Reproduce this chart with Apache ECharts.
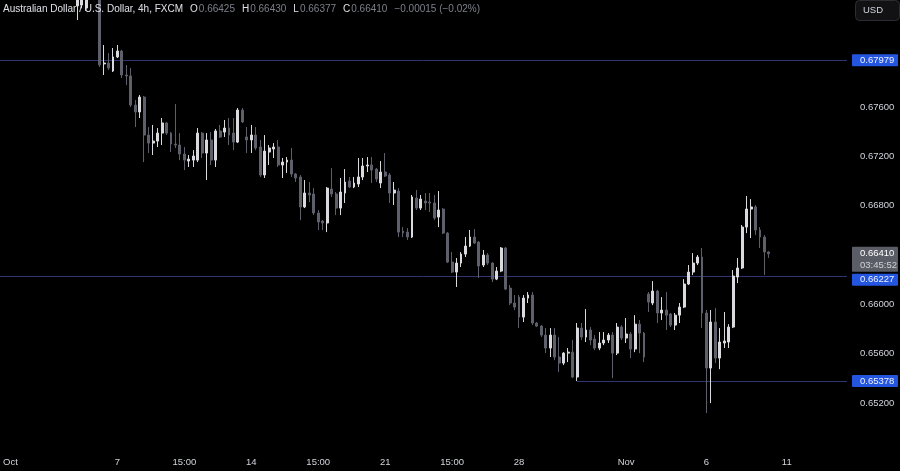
<!DOCTYPE html>
<html><head><meta charset="utf-8">
<script src="https://cdn.jsdelivr.net/npm/echarts@6/dist/echarts.min.js"></script>
<style>html,body{margin:0;padding:0;background:#000;}#c{width:900px;height:471px;}</style>
</head><body><div id="c"></div>
<script>
// Each candle: [open, high, low, close]
const week1 = [
  null,
  [0.6913,0.6922,0.6905,0.6918],[0.6918,0.6928,0.6910,0.6912],[0.6912,0.6915,0.6890,0.6895],
  [0.6895,0.6905,0.6880,0.6900],[0.6900,0.6908,0.6870,0.6875],[0.6875,0.6890,0.6868,0.6885],
  [0.6885,0.6895,0.6872,0.6880],[0.6880,0.6886,0.6862,0.6868],[0.6868,0.6882,0.6860,0.6878],
  [0.6878,0.6884,0.6858,0.6862],[0.6862,0.6875,0.6855,0.6870],[0.6870,0.6880,0.6860,0.6865],
  [0.6865,0.6872,0.6855,0.6868],[0.6868,0.6874,0.6856,0.6860],[0.6860,0.6866,0.6850,0.6852],
  [0.6842,0.6858,0.68306,0.6855],[0.68427,0.6866,0.6840,0.6860],[0.68403,0.6868,0.6838,0.6862],
  [0.6862,0.6872,0.6850,0.6866],[0.6866,0.6870,0.6848,0.6858],[0.6858,0.6862,0.67925,0.67941],
  [0.67950,0.68103,0.67860,0.67957],[0.67957,0.68038,0.67900,0.67917],[0.67892,0.68079,0.67884,0.68006]
];
const week2 = [
  [0.68006,0.68103,0.67998,0.68054],[0.68054,0.68063,0.67835,0.67860],[0.67860,0.67941,0.67779,0.67852],
  [0.67852,0.67917,0.67600,0.67616],[0.67616,0.67657,0.67438,0.67560],[0.67560,0.67698,0.67511,0.67681],
  [0.67681,0.67690,0.67154,0.67373],[0.67373,0.67438,0.67227,0.67308],[0.67308,0.67455,0.67211,0.67324],
  [0.67324,0.67430,0.67276,0.67389],[0.67389,0.67511,0.67292,0.67471],[0.67471,0.67479,0.67373,0.67389],
  [0.67389,0.67397,0.67235,0.67300],[0.67300,0.67625,0.67268,0.67292],[0.67292,0.67389,0.67170,0.67219],
  [0.67219,0.67276,0.67089,0.67170],[0.67162,0.67211,0.67114,0.67178],[0.67170,0.67251,0.67114,0.67203],
  [0.67170,0.67430,0.67154,0.67389],[0.67389,0.67397,0.67187,0.67227],[0.67227,0.67389,0.67008,0.67333],
  [0.67333,0.67397,0.67130,0.67170],[0.67170,0.67422,0.67114,0.67406],[0.67406,0.67455,0.67349,0.67357],
  [0.67397,0.67495,0.67357,0.67430],[0.67430,0.67511,0.67292,0.67373],[0.67389,0.67511,0.67251,0.67316],
  [0.67316,0.67592,0.67308,0.67576],[0.67576,0.67592,0.67471,0.67479],[0.67357,0.67438,0.67227,0.67333]
];
const week3 = [
  [0.67333,0.67455,0.67227,0.67373],[0.67373,0.67438,0.67251,0.67268],[0.67276,0.67333,0.67033,0.67049],
  [0.67049,0.67373,0.67025,0.67243],[0.67235,0.67292,0.67130,0.67268],[0.67260,0.67308,0.67187,0.67276],
  [0.67276,0.67333,0.67114,0.67130],[0.67130,0.67187,0.67025,0.67154],[0.67154,0.67195,0.67065,0.67170],
  [0.67170,0.67268,0.67033,0.67057],[0.67057,0.67065,0.66992,0.67025],[0.67033,0.67049,0.66684,0.66790],
  [0.66790,0.67008,0.66781,0.66903],[0.66903,0.66992,0.66830,0.66887],[0.66895,0.66943,0.66724,0.66741],
  [0.66741,0.66765,0.66603,0.66668],[0.66676,0.66684,0.66603,0.66660],[0.66660,0.66951,0.66586,0.66943],
  [0.66935,0.67105,0.66871,0.66895],[0.66895,0.66911,0.66724,0.66781],[0.66781,0.67025,0.66724,0.66911],
  [0.66903,0.67097,0.66822,0.66992],[0.67000,0.67033,0.66943,0.66952],[0.66952,0.67033,0.66943,0.66984],
  [0.66976,0.67187,0.66952,0.67033],[0.67033,0.67187,0.67008,0.67122],[0.67122,0.67195,0.67073,0.67130],
  [0.67130,0.67195,0.66984,0.67089],[0.67097,0.67105,0.66992,0.67016],[0.66984,0.67162,0.66943,0.67073]
];
const week4 = [
  [0.67073,0.67227,0.67033,0.67041],[0.67049,0.67065,0.66822,0.66903],[0.66903,0.66992,0.66806,0.66927],
  [0.66919,0.66943,0.66546,0.66586],[0.66595,0.66627,0.66546,0.66578],[0.66586,0.66619,0.66522,0.66546],
  [0.66546,0.66887,0.66538,0.66871],[0.66862,0.66927,0.66765,0.66781],[0.66781,0.66887,0.66765,0.66854],
  [0.66838,0.66903,0.66765,0.66822],[0.66830,0.66903,0.66749,0.66822],[0.66822,0.66887,0.66684,0.66700],
  [0.66708,0.66919,0.66627,0.66765],[0.66773,0.66781,0.66570,0.66578],[0.66578,0.66586,0.66335,0.66343],
  [0.66343,0.66424,0.66254,0.66262],[0.66262,0.66376,0.66141,0.66335],[0.66335,0.66424,0.66303,0.66408],
  [0.66408,0.66546,0.66384,0.66473],[0.66473,0.66603,0.66465,0.66546],[0.66546,0.66611,0.66489,0.66497],
  [0.66505,0.66513,0.66214,0.66311],[0.66319,0.66441,0.66303,0.66400],[0.66400,0.66416,0.66319,0.66335],
  [0.66335,0.66343,0.66181,0.66205],[0.66205,0.66303,0.66197,0.66270],[0.66270,0.66465,0.66262,0.66457],
  [0.66457,0.66465,0.66116,0.66124],[0.66132,0.66157,0.65994,0.66011],[0.66011,0.66076,0.65954,0.65978]
];
const week5 = [
  [0.66059,0.66076,0.65808,0.65897],[0.65897,0.66076,0.65857,0.66051],[0.66051,0.66100,0.66011,0.66076],
  [0.66076,0.66100,0.65832,0.65849],[0.65849,0.65857,0.65816,0.65824],[0.65824,0.65832,0.65735,0.65751],
  [0.65751,0.65808,0.65605,0.65646],[0.65646,0.65808,0.65573,0.65751],[0.65751,0.65808,0.65548,0.65573],
  [0.65573,0.65735,0.65451,0.65524],[0.65524,0.65613,0.65508,0.65605],[0.65605,0.65646,0.65532,0.65613],
  [0.65613,0.65711,0.65402,0.65411],[0.65411,0.65849,0.65378,0.65808],[0.65808,0.65849,0.65711,0.65735],
  [0.65735,0.65962,0.65695,0.65792],[0.65792,0.65816,0.65670,0.65711],[0.65719,0.65751,0.65629,0.65646],
  [0.65646,0.65776,0.65629,0.65687],[0.65687,0.65776,0.65670,0.65711],[0.65711,0.65768,0.65687,0.65751],
  [0.65751,0.65776,0.65402,0.65605],[0.65605,0.65849,0.65589,0.65816],[0.65816,0.65832,0.65711,0.65727],
  [0.65727,0.65889,0.65687,0.65760],[0.65760,0.65776,0.65565,0.65638],[0.65638,0.65913,0.65613,0.65840],
  [0.65840,0.65873,0.65605,0.65768],[0.65768,0.65776,0.65532,0.65573],[0.66084,0.66100,0.65938,0.66019]
];
const week6 = [
  [0.66011,0.66189,0.65994,0.66108],[0.66108,0.66116,0.65849,0.65930],[0.65930,0.66059,0.65873,0.65954],
  [0.65954,0.66100,0.65792,0.65913],[0.65922,0.65930,0.65816,0.65832],[0.65832,0.65930,0.65792,0.65913],
  [0.65913,0.66011,0.65849,0.65978],[0.65978,0.66205,0.65970,0.66165],[0.66165,0.66319,0.66157,0.66262],
  [0.66262,0.66416,0.66238,0.66335],[0.66335,0.66400,0.66319,0.66384],[0.66384,0.66457,0.65808,0.65930],
  [0.65930,0.65954,0.65119,0.65484],[0.65484,0.65954,0.65200,0.65857],[0.65857,0.65970,0.65524,0.65565],
  [0.65565,0.65808,0.65475,0.65695],[0.65687,0.65938,0.65646,0.65703],[0.65695,0.65840,0.65646,0.65816],
  [0.65816,0.66278,0.65808,0.66230],[0.66222,0.66376,0.66173,0.66295],[0.66295,0.66643,0.66287,0.66627],
  [0.66627,0.66879,0.66578,0.66773],[0.66773,0.66854,0.66538,0.66790],[0.66790,0.66806,0.66562,0.66603],
  [0.66603,0.66627,0.66457,0.66546],[0.66546,0.66562,0.66238,0.66425],[0.66425,0.66430,0.66377,0.66410]
];

const slotCount = 189;                       // candle slots incl. empty future space
const tickIndex = [1, 25, 40, 55, 70, 85, 100, 115, 139, 157, 175];
const tickText  = ['Oct', '7', '15:00', '14', '15:00', '21', '15:00', '28', 'Nov', '6', '11'];
const yTickValues = [0.676, 0.672, 0.668, 0.660, 0.656, 0.652];
const levels = [0.67979, 0.66227, 0.65378];
const levelStart = [null, null, 128];        // slot where a level line begins (null = left edge)
const countdown = '03:45:52';
const title = 'Australian Dollar / U.S. Dollar, 4h, FXCM';

const FONT = "'Liberation Sans', Arial, sans-serif";
const UP = '#dadade', DOWN = '#5d606b', LEVEL = '#2f3472', BLUE = '#2455de';

const candles = [].concat(week1, week2, week3, week4, week5, week6);
const cats = [];
for (let i = 0; i < slotCount; i++) cats.push('s' + i);
const tickMap = {};
tickIndex.forEach((k, i) => { tickMap[k] = tickText[i]; });
const seriesData = candles.map(d => d ? [d[0], d[3], d[2], d[1]] : '-');

const chart = echarts.init(document.getElementById('c'));
chart.setOption({
  backgroundColor: '#000000',
  animation: false,
  grid: { left: 1, right: 53, top: 0, bottom: 18.6 },
  xAxis: {
    type: 'category', data: cats, boundaryGap: true,
    axisLine: { show: false }, axisTick: { show: false }, splitLine: { show: false },
    axisLabel: {
      interval: (i) => tickMap[i] !== undefined,
      formatter: (v, i) => tickMap[i] || '',
      color: '#d1d4dc', fontSize: 9.5, margin: 5, fontFamily: FONT
    }
  },
  yAxis: {
    type: 'value', position: 'right', min: 0.648, max: 0.68468, interval: 0.004,
    axisLine: { show: false }, axisTick: { show: false }, splitLine: { show: false },
    axisLabel: {
      align: 'left', margin: 13, color: '#d1d4dc', fontSize: 9.5, fontFamily: FONT,
      formatter: (v) => yTickValues.some(t => Math.abs(t - v) < 1e-7) ? v.toFixed(5) : ''
    }
  },
  series: [{
    type: 'candlestick', data: seriesData, barWidth: 2.4, clip: true, z: 2,
    itemStyle: { color: UP, color0: DOWN, borderColor: UP, borderColor0: DOWN, borderWidth: 1 }
  }]
});

const gridRect = chart.getModel().getComponent('grid').coordinateSystem.getRect();
const last = candles[candles.length - 1];
const prevClose = candles[candles.length - 2][3];
const chg = last[3] - prevClose;
const pct = chg / prevClose * 100;
const minus = (x, d) => (x < 0 ? '\u2212' : '') + Math.abs(x).toFixed(d);

const g = [];
// horizontal level lines, placed through the chart's own scales
levels.forEach((v, i) => {
  const yl = Math.round(chart.convertToPixel({ yAxisIndex: 0 }, v)) + 0.5;
  const x0 = levelStart[i] == null ? 0 : chart.convertToPixel({ xAxisIndex: 0 }, 's' + levelStart[i]);
  g.push({ type: 'line', z: 1, zlevel: 0, silent: true,
    shape: { x1: x0, y1: yl, x2: gridRect.x + gridRect.width, y2: yl },
    style: { stroke: LEVEL, lineWidth: 1 } });
});
g.push({
  type: 'text', left: 3, top: 4, z: 100,
  style: {
    text: '{t|' + title + '}{k|O}{v|' + last[0].toFixed(5) + '}{k|H}{v|' + last[1].toFixed(5) +
          '}{k|L}{v|' + last[2].toFixed(5) + '}{k|C}{v|' + last[3].toFixed(5) +
          '}{c|' + minus(chg, 5) + ' (' + minus(pct, 2) + '%)}',
    rich: {
      t: { fill: '#dfe1e6', fontSize: 10, fontFamily: FONT },
      k: { fill: '#dfe1e6', fontSize: 10, fontFamily: FONT, padding: [0, 1, 0, 7] },
      v: { fill: '#7d808a', fontSize: 10, fontFamily: FONT },
      c: { fill: '#7d808a', fontSize: 10, fontFamily: FONT, padding: [0, 0, 0, 7] }
    }
  }
});
g.push({ type: 'rect', z: 100, shape: { x: 855.5, y: 0.5, width: 44, height: 20, r: 4 },
  style: { fill: '#121214', stroke: '#2c2d33', lineWidth: 1 } });
g.push({ type: 'text', z: 101, x: 863, y: 10.5,
  style: { text: 'USD', fill: '#d1d4dc', fontSize: 9.5, fontFamily: FONT, textVerticalAlign: 'middle' } });

const yLast = chart.convertToPixel({ yAxisIndex: 0 }, last[3]);
const greyTop = yLast - 7;
g.push({ type: 'rect', z: 100, shape: { x: 852, y: greyTop, width: 46, height: 25, r: 1 },
  style: { fill: '#5a5d66' } });
g.push({ type: 'text', z: 101, x: 860, y: yLast,
  style: { text: last[3].toFixed(5), fill: '#ffffff', fontSize: 9.5, fontFamily: FONT, textVerticalAlign: 'middle' } });
g.push({ type: 'text', z: 101, x: 860, y: yLast + 11.5,
  style: { text: countdown, fill: '#d0d2d8', fontSize: 9.5, fontFamily: FONT, textVerticalAlign: 'middle' } });

levels.forEach((v) => {
  let yc = chart.convertToPixel({ yAxisIndex: 0 }, v);
  if (Math.abs(yc - yLast) < 30 && yc > yLast) yc = Math.max(yc, greyTop + 25 + 2 + 6);
  g.push({ type: 'rect', z: 100, shape: { x: 852, y: yc - 6, width: 46, height: 12, r: 1 },
    style: { fill: BLUE } });
  g.push({ type: 'text', z: 101, x: 860, y: yc,
    style: { text: v.toFixed(5), fill: '#eef2ff', fontSize: 9.5, fontFamily: FONT, textVerticalAlign: 'middle' } });
});
chart.setOption({ graphic: g });
</script>
</body></html>
